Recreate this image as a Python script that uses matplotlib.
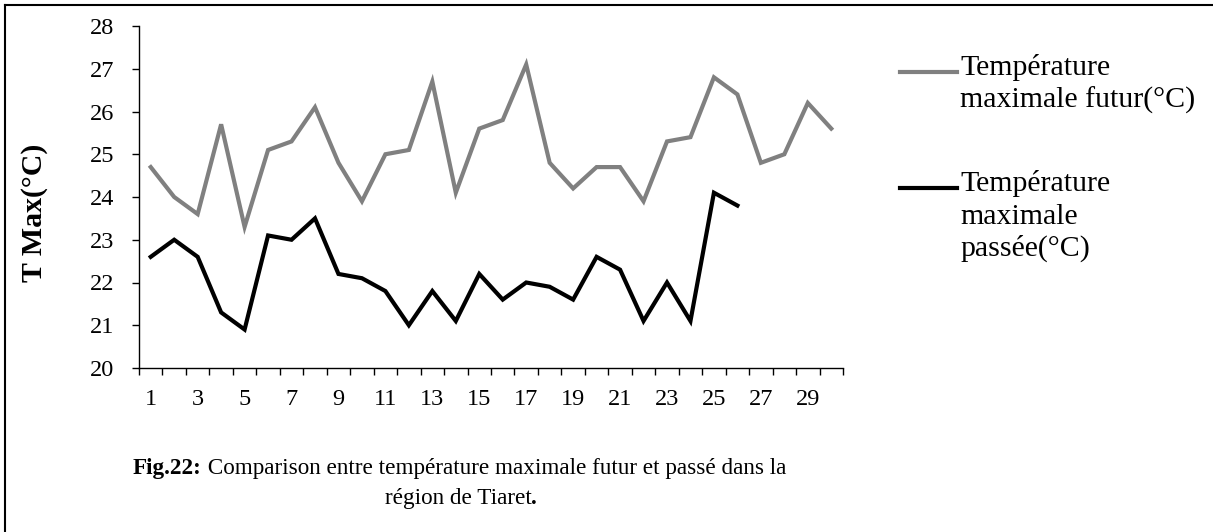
import matplotlib
matplotlib.use("Agg")
import matplotlib.pyplot as plt
from matplotlib.lines import Line2D

days = list(range(1, 31))
t_futur = [24.7, 24.0, 23.6, 25.7, 23.3, 25.1, 25.3, 26.1, 24.8, 23.9,
           25.0, 25.1, 26.7, 24.1, 25.6, 25.8, 27.1, 24.8, 24.2, 24.7,
           24.7, 23.9, 25.3, 25.4, 26.8, 26.4, 24.8, 25.0, 26.2, 25.6]
t_passe = [22.6, 23.0, 22.6, 21.3, 20.9, 23.1, 23.0, 23.5, 22.2, 22.1,
           21.8, 21.0, 21.8, 21.1, 22.2, 21.6, 22.0, 21.9, 21.6, 22.6,
           22.3, 21.1, 22.0, 21.1, 24.1, 23.8]
y_ticks = [20, 21, 22, 23, 24, 25, 26, 27, 28]
x_labels = [1, 3, 5, 7, 9, 11, 13, 15, 17, 19, 21, 23, 25, 27, 29]
label_futur = ["Température", "maximale futur(°C)"]
label_passe = ["Température", "maximale", "passée(°C)"]
ylabel = "T Max(°C)"
caption_bold = "Fig.22:"
caption_rest = " Comparison entre température maximale futur et passé dans la"
caption_line2 = "région de Tiaret"

plt.rcParams['font.family'] = ['Liberation Serif', 'DejaVu Serif']

W, H = 1213, 532
fig = plt.figure(figsize=(W / 100, H / 100), dpi=100)
ax = fig.add_axes([139 / W, 1 - 368 / H, (843 - 139) / W, (368 - 26) / H])

c_futur = '#808080'
c_passe = '#000000'
ax.plot(days, t_futur, color=c_futur, lw=3.0, solid_joinstyle='miter')
ax.plot(days[:len(t_passe)], t_passe, color=c_passe, lw=3.0, solid_joinstyle='miter')

ax.set_xlim(0.5, 30.5)
ax.set_ylim(20, 28)
ax.set_yticks(y_ticks)
ax.set_yticklabels([str(v) for v in y_ticks])
ax.set_xticks(x_labels)
ax.set_xticklabels([str(v) for v in x_labels])
ax.set_xticks([d - 0.5 for d in days] + [30.5], minor=True)
ax.tick_params(axis='x', which='major', length=0, pad=15, labelsize=17.5)
ax.tick_params(axis='x', which='minor', length=5, width=1.0, direction='out')
ax.tick_params(axis='y', which='major', length=5, width=1.0, direction='out', pad=13, labelsize=17.5)
for s in ['top', 'right']:
    ax.spines[s].set_visible(False)
for s in ['left', 'bottom']:
    ax.spines[s].set_linewidth(1.0)

fig.text(34 / W, 1 - 213 / H, ylabel, rotation=90, ha='center', va='center',
         fontsize=21.5, fontweight='bold')

# legend
fs_leg = 21.5
pitch = 32.5
for (y0, lines, col) in [(72, label_futur, c_futur), (188, label_passe, c_passe)]:
    fig.add_artist(Line2D([900 / W, 957 / W], [1 - y0 / H, 1 - y0 / H], color=col, lw=3.0,
                          transform=fig.transFigure))
    for i, line in enumerate(lines):
        fig.text(960 / W, 1 - (y0 + 3 + i * pitch) / H, line, ha='left', va='baseline',
                 fontsize=fs_leg)

# caption
fs_cap = 16.7
t1 = fig.text(458 / W, 1 - 474 / H, caption_bold + caption_rest, ha='center', va='baseline',
              fontsize=fs_cap, color='white')
fig.canvas.draw()
bb = t1.get_window_extent()
t1.set_visible(False)
tb = fig.text(bb.x0 / W, 1 - 474 / H, caption_bold, ha='left', va='baseline',
              fontsize=fs_cap, fontweight='bold')
fig.canvas.draw()
bb2 = tb.get_window_extent()
fig.text(bb2.x1 / W, 1 - 474 / H, caption_rest, ha='left', va='baseline', fontsize=fs_cap)
t2 = fig.text(458 / W, 1 - 504 / H, caption_line2, ha='center', va='baseline', fontsize=fs_cap)
fig.canvas.draw()
bb3 = t2.get_window_extent()
fig.text(bb3.x1 / W, 1 - 504 / H, ".", ha='left', va='baseline', fontsize=fs_cap, fontweight='bold')

# frame (top and left)
fig.add_artist(Line2D([5 / W, 1], [1 - 5 / H, 1 - 5 / H], color='black', lw=1.5, transform=fig.transFigure))
fig.add_artist(Line2D([5 / W, 5 / W], [0, 1 - 5 / H], color='black', lw=1.5, transform=fig.transFigure))

fig.savefig("out.png", dpi=100)
